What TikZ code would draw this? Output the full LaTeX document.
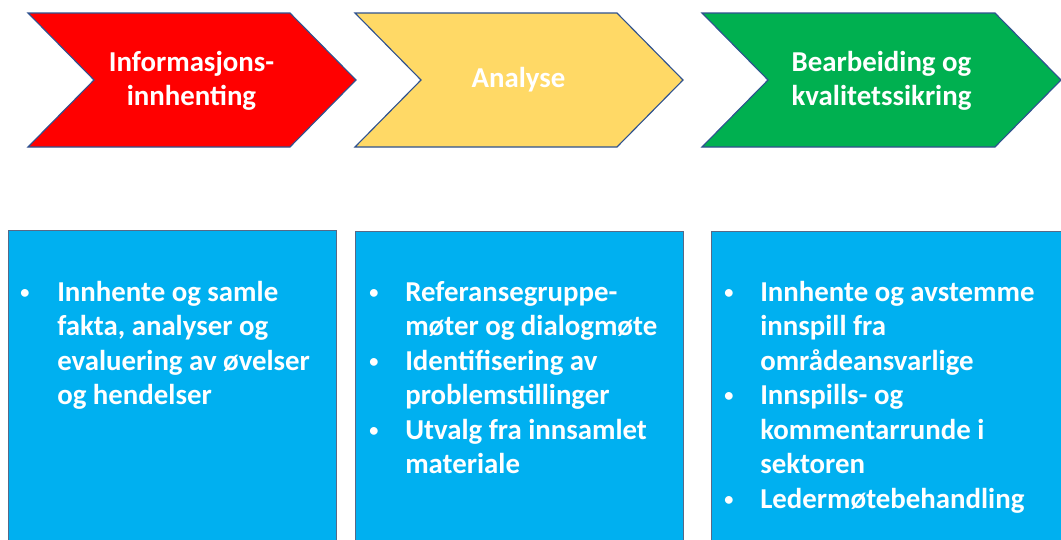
\documentclass[tikz,border=0pt]{standalone}
\usepackage{fontspec}
\setmainfont{Carlito}

\definecolor{pilrod}{RGB}{255,0,0}
\definecolor{pilgul}{RGB}{255,217,102}
\definecolor{pilgronn}{RGB}{0,176,80}
\definecolor{boksbla}{RGB}{0,176,240}
\definecolor{kant}{RGB}{47,82,143}

\tikzset{
  pil/.style={draw=kant, line width=0.8pt, line join=miter},
  boks/.style={draw=kant!50!gray, fill=boksbla, line width=0.6pt},
  pilnavn/.style={text=white, font=\bfseries\fontsize{20.5}{24.5}\selectfont, align=center},
  punkter/.style={text=white, font=\bfseries\fontsize{20.5}{24.5}\selectfont,
    anchor=north west, inner sep=0pt}
}

% pil: venstre kant, rett hoeyre kant, farge
\newcommand\tegnpil[3]{%
  \draw[pil, fill=#3] (#1,13) -- (#2,13) -- ({#2+66},80) -- (#2,147)
    -- (#1,147) -- ({#1+66},80) -- cycle;}
% liten kulepunkt
\newcommand\prikk{\raisebox{2pt}{\fontsize{13}{13}\selectfont\textbullet}}

\begin{document}
\begin{tikzpicture}[x=0.025cm, y=-0.025cm]
  \useasboundingbox (0,0) rectangle (1061,540);

  % prosessteg
  \tegnpil{28}{290}{pilrod}
  \tegnpil{355}{617}{pilgul}
  \tegnpil{702}{995}{pilgronn}

  \node[pilnavn] (info) at (191.5,81) {Informasjons-\\innhenting};
  \node[pilnavn] (analyse) at (518.5,80) {Analyse};
  \node[pilnavn] (bearb) at (881.5,81) {Bearbeiding og\\kvalitetssikring};

  % bokser under
  \draw[boks] (8,230) rectangle (336,550);
  \draw[boks] (355,231) rectangle (683,550);
  \draw[boks] (711,231) rectangle (1070,550);

  \node[punkter] (liste1) at (20,277) {\begin{tabular}{@{}p{0.925cm}@{}l@{}}
    \prikk & Innhente og samle\\
    & fakta, analyser og\\
    & evaluering av øvelser\\
    & og hendelser
  \end{tabular}};

  \node[punkter] (liste2) at (369,277) {\begin{tabular}{@{}p{0.9cm}@{}l@{}}
    \prikk & Referansegruppe-\\
    & møter og dialogmøte\\
    \prikk & Identifisering av\\
    & problemstillinger\\
    \prikk & Utvalg fra innsamlet\\
    & materiale
  \end{tabular}};

  \node[punkter] (liste3) at (724,277) {\begin{tabular}{@{}p{0.9cm}@{}l@{}}
    \prikk & Innhente og avstemme\\
    & innspill fra\\
    & områdeansvarlige\\
    \prikk & Innspills- og\\
    & kommentarrunde i\\
    & sektoren\\
    \prikk & Ledermøtebehandling
  \end{tabular}};
\end{tikzpicture}
\end{document}
